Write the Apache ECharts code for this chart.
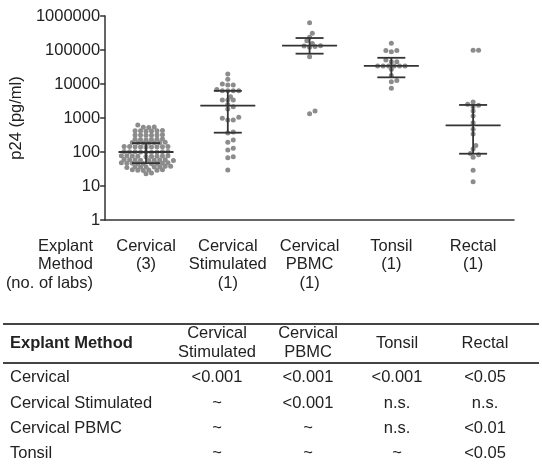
<!DOCTYPE html>
<html>
<head>
<meta charset="utf-8">
<script src="https://cdn.jsdelivr.net/npm/echarts@6/dist/echarts.min.js"></script>
<style>
html,body{margin:0;padding:0;background:#fff;}
#chart{width:542px;height:465px;}
</style>
</head>
<body>
<div id="chart"></div>
<script>
// ---------- DATA ----------
const categories = ['Cervical\n(3)', 'Cervical\nStimulated\n(1)', 'Cervical\nPBMC\n(1)', 'Tonsil\n(1)', 'Rectal\n(1)'];
const yTickLabels = ['1', '10', '100', '1000', '10000', '100000', '1000000'];

const cervical = [620, 540, 530, 525,
  430, 425, 420, 420, 415, 410,
  320, 318, 315, 315, 312, 310,
  240, 238, 236, 235, 233, 230,
  192, 190, 188, 187, 186, 185, 183,
  146, 145, 144, 143, 143, 142, 141, 140, 139,
  104, 103, 102, 102, 101, 100, 100, 99, 98,
  78, 77, 77, 76, 76, 75, 75, 74, 73,
  60, 59, 59, 58, 58, 57, 57, 56, 56,
  48, 48, 47, 47, 47, 46, 46, 46, 45,
  38, 38, 37, 37, 37, 36, 36, 35,
  30, 30, 29.5, 29, 29, 28.5,
  24, 23];
const cervicalStim = [19600, 13700, 9300, 10000, 9300, 6300, 6300, 6300, 6300, 6900, 4250, 3400, 3400, 3400, 2500,
  2150, 1840, 1050, 870, 980, 870, 390, 360, 225, 193, 115, 128, 73, 68, 29.5];
const cervicalPBMC = [635000, 310000, 236000, 187000, 155000, 131000, 126000, 120000, 134000, 63000, 1340, 1600];
const tonsil = [158000, 96000, 89000, 96000, 51000, 45500, 45500, 34000, 34000, 34000, 34000, 34000, 34000,
  27000, 17800, 12600, 11700, 7500];
const rectal = [98000, 98000, 2960, 2360, 2150, 2520, 1610, 1150, 725, 465, 340, 155, 123, 91, 70, 83, 29, 13.4];

const medians = [100, 2300, 134000, 34000, 610];
const q1 = [47, 370, 78000, 15700, 89];
const q3 = [183, 6300, 225000, 59000, 2420];

const tableCols = ['Cervical\nStimulated', 'Cervical\nPBMC', 'Tonsil', 'Rectal'];
const tableRows = ['Cervical', 'Cervical Stimulated', 'Cervical PBMC', 'Tonsil'];
const pValues = [
  ['<0.001', '<0.001', '<0.001', '<0.05'],
  ['~', '<0.001', 'n.s.', 'n.s.'],
  ['~', '~', 'n.s.', '<0.01'],
  ['~', '~', '~', '<0.05']
];

// ---------- LAYOUT ----------
const W = 542, H = 465;
const G = { left: 96, right: 28, top: 16, bottom: 245 };
const gridW = W - G.left - G.right;
const gridH = H - G.top - G.bottom;
const bandPx = gridW / categories.length;
const decadePx = gridH / 6;
const HALF = 2.8, MIND = 4.1;
const FONT = '"Liberation Sans", Arial, Helvetica, sans-serif';
const TXT = '#222';
const FS = 16.5;

function swarm(values, idx) {
  const placed = [];
  const out = [];
  const sorted = values.slice().sort((a, b) => a - b);
  for (const v of sorted) {
    const y = Math.log10(v) * decadePx;
    let off = 0;
    for (let k = 0; k < 80; k++) {
      const c = k === 0 ? 0 : (k % 2 ? Math.ceil(k / 2) : -k / 2) * HALF;
      if (placed.every(p => Math.hypot(p[0] - c, p[1] - y) >= MIND)) { off = c; break; }
    }
    placed.push([off, y]);
    out.push([idx + off / bandPx, v]);
  }
  return out;
}

const groups = [cervical, cervicalStim, cervicalPBMC, tonsil, rectal];
let points = [];
groups.forEach((g, i) => { points = points.concat(swarm(g, i)); });

const statData = medians.map((m, i) => [i, m, q1[i], q3[i]]);

// ---------- TABLE (graphic) ----------
const colX = [217, 308, 397, 485];
const rowY = [377, 403, 428, 453];
const graphic = [];
graphic.push({ type: 'text', x: 93, y: 237, style: {
  text: 'Explant\nMethod\n(no. of labs)', font: FS + 'px ' + FONT, fill: TXT, align: 'right', verticalAlign: 'top', lineHeight: 18.5 } });
graphic.push({ type: 'line', shape: { x1: 3, y1: 324, x2: 539, y2: 324 }, style: { stroke: '#444', lineWidth: 2 } });
graphic.push({ type: 'line', shape: { x1: 3, y1: 363, x2: 539, y2: 363 }, style: { stroke: '#444', lineWidth: 2 } });
graphic.push({ type: 'text', x: 10, y: 343, style: { text: 'Explant Method', font: 'bold ' + FS + 'px ' + FONT, fill: TXT, align: 'left', verticalAlign: 'middle' } });
tableCols.forEach((c, j) => {
  graphic.push({ type: 'text', x: colX[j], y: 343, style: { text: c, font: FS + 'px ' + FONT, fill: TXT, align: 'center', verticalAlign: 'middle', lineHeight: 19 } });
});
tableRows.forEach((r, i) => {
  graphic.push({ type: 'text', x: 10, y: rowY[i], style: { text: r, font: FS + 'px ' + FONT, fill: TXT, align: 'left', verticalAlign: 'middle' } });
  pValues[i].forEach((p, j) => {
    graphic.push({ type: 'text', x: colX[j], y: rowY[i], style: { text: p, font: FS + 'px ' + FONT, fill: TXT, align: 'center', verticalAlign: 'middle' } });
  });
});

// ---------- CHART ----------
const chart = echarts.init(document.getElementById('chart'), null, { renderer: 'canvas' });
chart.setOption({
  animation: false,
  backgroundColor: '#fff',
  textStyle: { fontFamily: FONT },
  grid: { left: G.left, right: G.right, top: G.top, bottom: G.bottom, containLabel: false },
  xAxis: [
    {
      type: 'category', data: categories, boundaryGap: true,
      axisLine: { onZero: false, lineStyle: { color: '#333', width: 1.5 } },
      axisTick: { alignWithLabel: true, length: 5, lineStyle: { color: '#333', width: 1.5 } },
      axisLabel: { color: TXT, fontSize: FS, lineHeight: 18.5, margin: 17, fontFamily: FONT, interval: 0 },
      splitLine: { show: false }
    },
    { type: 'value', min: -0.5, max: 4.5, show: false, axisLine: { onZero: false } }
  ],
  yAxis: {
    type: 'log', logBase: 10, min: 1, max: 1000000,
    axisLine: { show: true, onZero: false, lineStyle: { color: '#333', width: 1.5 } },
    axisTick: { show: true, length: 5, lineStyle: { color: '#333', width: 1.5 } },
    axisLabel: { color: TXT, fontSize: FS, margin: 5, fontFamily: FONT,
      formatter: v => yTickLabels[Math.round(Math.log10(v))] },
    splitLine: { show: false },
    name: 'p24 (pg/ml)', nameLocation: 'middle', nameGap: 61, nameRotate: 90,
    nameTextStyle: { color: TXT, fontSize: FS, fontFamily: FONT }
  },
  series: [
    {
      type: 'scatter', xAxisIndex: 1, data: points, symbol: 'circle', symbolSize: 5,
      itemStyle: { color: '#8c8c8c', opacity: 1 }, z: 2, silent: true
    },
    {
      type: 'custom', xAxisIndex: 1, data: statData, z: 3, silent: true,
      renderItem: function (params, api) {
        const x = api.value(0);
        const m = api.coord([x, api.value(1)]);
        const lo = api.coord([x, api.value(2)]);
        const hi = api.coord([x, api.value(3)]);
        const st = { stroke: '#333', lineWidth: 1.8 };
        return { type: 'group', children: [
          { type: 'line', shape: { x1: m[0] - 27.5, y1: m[1], x2: m[0] + 27.5, y2: m[1] }, style: st },
          { type: 'line', shape: { x1: hi[0] - 14, y1: hi[1], x2: hi[0] + 14, y2: hi[1] }, style: st },
          { type: 'line', shape: { x1: lo[0] - 14, y1: lo[1], x2: lo[0] + 14, y2: lo[1] }, style: st },
          { type: 'line', shape: { x1: m[0], y1: hi[1], x2: m[0], y2: lo[1] }, style: st }
        ] };
      }
    }
  ],
  graphic: graphic
});
</script>
</body>
</html>
